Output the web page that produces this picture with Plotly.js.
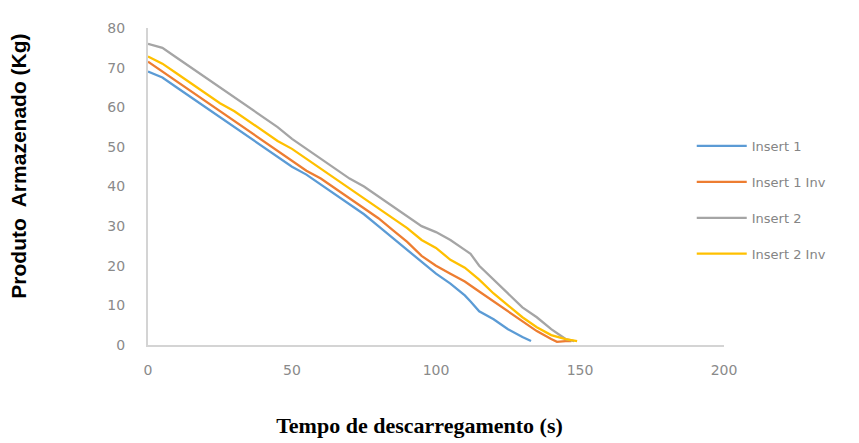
<!DOCTYPE html>
<html>
<head>
<meta charset="utf-8">
<script src="https://cdn.plot.ly/plotly-3.0.1.min.js"></script>
<style>html,body{margin:0;padding:0;background:#fff;}#chart{width:859px;height:443px;}</style>
</head>
<body>
<div id="chart"></div>
<script>
// Insert 1
const tInsert1 = [0,5,10,15,20,25,30,35,40,45,50,55,60,65,70,75,80,85,90,95,100,105,110,112,115,120,125,130,133];
const yInsert1 = [69,67.5,65,62.5,60,57.5,55,52.5,50,47.5,45,43,40.5,38,35.5,33,30,27,24,21,18,15.5,12.5,11,8.5,6.5,4,2,1];
// Insert 1 Inv
const tInsert1Inv = [0,5,10,15,20,25,30,35,40,45,50,55,60,65,70,75,80,85,90,95,100,105,110,115,120,125,130,135,140,142,145,147];
const yInsert1Inv = [71.5,69,66.5,64,61.5,59,56.5,54,51.5,49,46.5,44,42,39.5,37,34.5,32,29,26,22.5,20,18,16,13.5,11,8.5,6,3.5,1.5,0.8,1,1];
// Insert 2
const tInsert2 = [0,3,5,10,15,20,25,30,35,40,45,50,55,60,65,70,75,80,85,90,95,100,105,110,112,115,120,125,130,135,140,145,148];
const yInsert2 = [76,75.5,75,72.5,70,67.5,65,62.5,60,57.5,55,52,49.5,47,44.5,42,40,37.5,35,32.5,30,28.5,26.5,24,23,20,16.5,13,9.5,7,4,1.5,1];
// Insert 2 Inv
const tInsert2Inv = [0,5,10,15,20,25,30,35,40,45,50,55,60,65,70,75,80,85,90,95,100,105,110,115,120,125,130,135,140,145,149];
const yInsert2Inv = [72.8,71,68.5,66,63.5,61,59,56.5,54,51.5,49.5,47,44.5,42,39.5,37,34.5,32,29.5,26.5,24.5,21.5,19.5,16.5,13,10,7,4.5,2.5,1.5,1];

const seriesNames = ["Insert 1","Insert 1 Inv","Insert 2","Insert 2 Inv"];
const seriesColors = ["#5B9BD5","#ED7D31","#A5A5A5","#FFC000"];
const xTickVals = [0,50,100,150,200];
const yTickVals = [0,10,20,30,40,50,60,70,80];

const xs = [tInsert1,tInsert1Inv,tInsert2,tInsert2Inv];
const ys = [yInsert1,yInsert1Inv,yInsert2,yInsert2Inv];

const traces = seriesNames.map((n,i)=>({
  type:'scatter', mode:'lines', name:n, x:xs[i], y:ys[i],
  line:{color:seriesColors[i], width:2.3},
  legendgroup:'g'+i
}));

const nb = n => '&nbsp;'.repeat(n);

const layout = {
  width:859, height:443,
  margin:{l:148, r:135, t:28, b:98},
  paper_bgcolor:'#fff', plot_bgcolor:'#fff',
  showlegend:true,
  legend:{x:0.944, xanchor:'left', y:0.675, yanchor:'top',
    font:{family:'DejaVu Sans', size:13, color:'#858585'},
    tracegroupgap:16, itemwidth:50, bgcolor:'rgba(0,0,0,0)'},
  xaxis:{range:[0,200], tickvals:xTickVals, ticktext:xTickVals.map(String),
    showgrid:false, zeroline:false, showline:true, linecolor:'#d4d4d4', linewidth:2,
    ticks:'outside', ticklen:11, tickcolor:'rgba(0,0,0,0)',
    tickfont:{family:'DejaVu Sans', size:14, color:'#8a8a8a'},
    title:{text:'<b>Tempo de descarregamento (s)</b>' + nb(6), standoff:41,
      font:{family:'Liberation Serif', size:22, color:'#000'}}},
  yaxis:{range:[0,80], tickvals:yTickVals, ticktext:yTickVals.map(String),
    showgrid:false, zeroline:false, showline:true, linecolor:'#d4d4d4', linewidth:2,
    ticks:'outside', ticklen:18, tickcolor:'rgba(0,0,0,0)',
    tickfont:{family:'DejaVu Sans', size:14, color:'#8a8a8a'},
    title:{text:nb(7) + '<b>Produto  Armazenado (Kg)</b>', standoff:75,
      font:{family:'Liberation Sans', size:21, color:'#000'}}}
};

Plotly.newPlot('chart', traces, layout, {displayModeBar:false, staticPlot:true});
</script>
</body>
</html>
